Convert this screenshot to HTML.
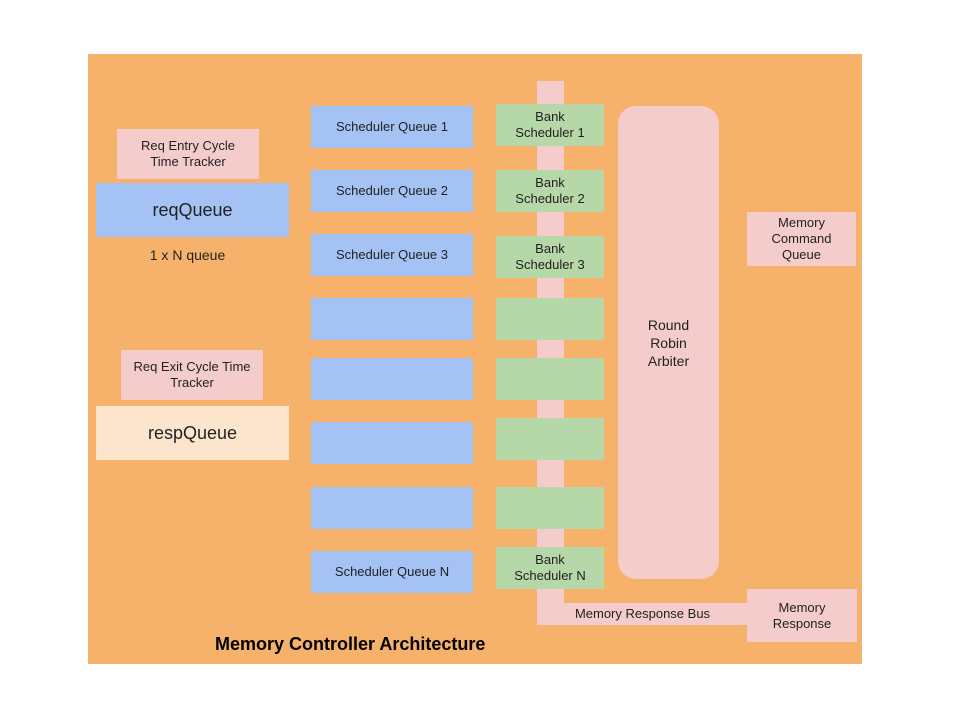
<!DOCTYPE html>
<html><head><style>
body{margin:0;width:960px;height:720px;background:#fff;position:relative;overflow:hidden;font-family:"Liberation Sans",sans-serif;}
div.b{position:absolute;display:flex;align-items:center;justify-content:center;text-align:center;color:#222;font-size:13px;line-height:16px;}
.o{background:#f6b26b}.p{background:#f4cccc}.bl{background:#a4c2f4}.g{background:#b6d7a8}.l{background:#fce5cd}
</style></head><body>
<div class="b o" style="left:88px;top:54px;width:774px;height:610px"></div>
<div class="b p" style="left:537px;top:81px;width:27px;height:544px"></div>
<div class="b p" style="left:537px;top:603px;width:211px;height:22px">Memory Response Bus</div>
<div class="b p" style="left:747px;top:589px;width:110px;height:53px">Memory<br>Response</div>
<div class="b p" style="left:747px;top:212px;width:109px;height:54px">Memory<br>Command<br>Queue</div>
<div class="b p" style="left:618px;top:106px;width:101px;height:473px;border-radius:18px;font-size:14px;line-height:18px">Round<br>Robin<br>Arbiter</div>
<div class="b p" style="left:117px;top:129px;width:142px;height:50px">Req Entry Cycle<br>Time Tracker</div>
<div class="b bl" style="left:96px;top:183px;width:193px;height:54px;font-size:18px">reqQueue</div>
<div class="b" style="left:96px;top:245px;width:183px;height:20px;font-size:14px">1 x N queue</div>
<div class="b p" style="left:121px;top:350px;width:142px;height:50px">Req Exit Cycle Time<br>Tracker</div>
<div class="b l" style="left:96px;top:406px;width:193px;height:54px;font-size:18px">respQueue</div>
<div class="b bl" style="left:311px;top:106px;width:162px;height:42px">Scheduler Queue 1</div>
<div class="b bl" style="left:311px;top:170px;width:162px;height:42px">Scheduler Queue 2</div>
<div class="b bl" style="left:311px;top:234px;width:162px;height:42px">Scheduler Queue 3</div>
<div class="b bl" style="left:311px;top:298px;width:162px;height:42px"></div>
<div class="b bl" style="left:311px;top:358px;width:162px;height:42px"></div>
<div class="b bl" style="left:311px;top:422px;width:162px;height:42px"></div>
<div class="b bl" style="left:311px;top:487px;width:162px;height:42px"></div>
<div class="b bl" style="left:311px;top:551px;width:162px;height:42px">Scheduler Queue N</div>
<div class="b g" style="left:496px;top:104px;width:108px;height:42px">Bank<br>Scheduler 1</div>
<div class="b g" style="left:496px;top:170px;width:108px;height:42px">Bank<br>Scheduler 2</div>
<div class="b g" style="left:496px;top:236px;width:108px;height:42px">Bank<br>Scheduler 3</div>
<div class="b g" style="left:496px;top:298px;width:108px;height:42px"></div>
<div class="b g" style="left:496px;top:358px;width:108px;height:42px"></div>
<div class="b g" style="left:496px;top:418px;width:108px;height:42px"></div>
<div class="b g" style="left:496px;top:487px;width:108px;height:42px"></div>
<div class="b g" style="left:496px;top:547px;width:108px;height:42px">Bank<br>Scheduler N</div>
<div class="b" style="left:215px;top:633px;width:300px;height:22px;justify-content:flex-start;font-size:18px;font-weight:bold;color:#000">Memory Controller Architecture</div>
</body></html>
